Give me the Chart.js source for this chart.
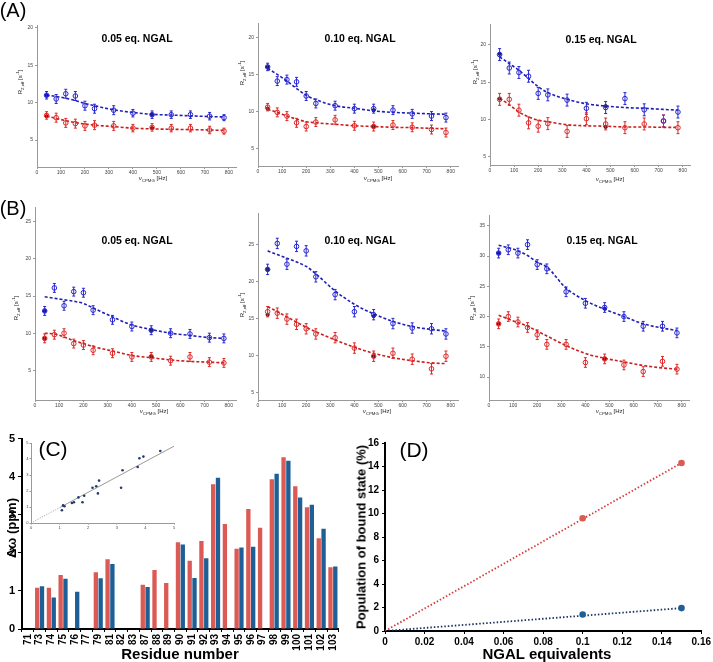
<!DOCTYPE html>
<html><head><meta charset="utf-8">
<script src="https://cdn.jsdelivr.net/npm/chart.js@4.4.1/dist/chart.umd.min.js"></script>
<style>
body{margin:0;background:#fff;width:713px;height:662px;overflow:hidden;position:relative;font-family:'Liberation Sans',Arial,sans-serif;}
canvas{position:absolute;}
.t{position:absolute;white-space:nowrap;color:#000;line-height:1;}
.t sub,.t sup{font-size:0.72em;}
</style></head><body>
<script>
// ---------- DATA ----------
const freq = [40,80,120,160,200,240,320,400,480,560,640,720,780];
const repFreq = [40,480];
const xTicksHz = [0,100,200,300,400,500,600,700,800];

// (A) 0.05 eq
const a1Blue    = [11.0,10.5,11.2,10.9,9.6,9.2,9.0,8.6,8.4,8.4,8.4,8.2,8.0];
const a1BlueFit = [11.0,10.85,10.6,10.3,9.9,9.6,9.05,8.7,8.45,8.35,8.25,8.15,8.1];
const a1Red     = [8.3,8.0,7.3,7.2,6.9,7.0,6.9,6.6,6.7,6.6,6.6,6.35,6.2];
const a1RedFit  = [8.2,7.9,7.6,7.35,7.15,7.0,6.8,6.6,6.5,6.45,6.4,6.35,6.3];
const a1Err     = [0.5,0.6,0.6,0.6,0.6,0.6,0.6,0.5,0.5,0.5,0.5,0.5,0.4];
const a1DarkB = [11.0,8.4], a1DarkR = [8.2,6.6];
// (A) 0.10 eq
const a2Blue    = [16.0,14.1,14.3,14.0,12.1,11.1,10.8,10.4,10.4,10.2,9.7,9.4,9.2];
const a2BlueFit = [15.8,15.0,14.1,13.1,12.2,11.6,10.8,10.45,10.1,9.9,9.8,9.7,9.65];
const a2Red     = [10.6,9.9,9.4,8.5,8.0,8.6,8.9,8.1,8.0,8.2,7.9,7.6,7.2];
const a2RedFit  = [10.3,9.9,9.4,9.0,8.65,8.5,8.3,8.1,8.0,7.9,7.85,7.75,7.7];
const a2Err     = [0.5,0.6,0.6,0.6,0.6,0.6,0.6,0.6,0.6,0.6,0.6,0.6,0.6];
const a2DarkB = [16.0,10.2], a2DarkR = [10.4,8.0];
// (A) 0.15 eq
const a3Blue    = [18.7,16.9,16.3,15.8,13.5,13.3,12.6,11.5,11.6,12.8,11.3,9.8,11.0];
const a3BlueFit = [18.4,17.5,16.6,15.5,14.4,13.6,12.7,12.1,11.8,11.6,11.5,11.35,11.25];
const a3Red     = [12.7,12.7,11.25,9.55,9.1,9.45,8.4,10.1,9.4,8.9,9.4,9.8,8.9];
const a3RedFit  = [12.8,12.0,11.0,10.35,9.9,9.7,9.3,9.15,9.1,9.0,9.0,8.95,8.95];
const a3Err     = [0.8,0.8,0.8,0.8,0.8,0.8,0.8,0.8,0.8,0.8,0.8,0.8,0.8];
const a3DarkB = [18.8,11.8], a3DarkR = [12.8,9.0];
// (B) 0.05 eq
const b1Blue    = [13.0,16.1,13.7,15.6,15.45,13.1,11.8,10.9,10.4,10.0,9.9,9.4,9.3];
const b1BlueFit = [14.9,14.7,14.5,14.3,14.0,13.4,12.2,11.1,10.5,10.0,9.7,9.4,9.3];
const b1Red     = [9.3,9.8,10.0,8.6,8.4,7.7,7.3,6.8,6.8,6.3,6.8,6.1,6.0];
const b1RedFit  = [10.0,9.9,9.5,9.0,8.6,8.2,7.6,7.0,6.7,6.4,6.2,6.1,6.0];
const b1Err     = [0.6,0.6,0.6,0.6,0.6,0.6,0.6,0.6,0.6,0.6,0.6,0.6,0.6];
const b1DarkB = [13.0,10.4], b1DarkR = [9.3,6.9];
// (B) 0.10 eq
const b2Blue    = [21.6,25.1,22.3,24.7,24.1,20.6,18.2,15.9,15.5,14.3,13.7,13.6,12.9];
const b2BlueFit = [24.1,23.6,23.1,22.6,22.0,21.0,18.7,16.9,15.6,14.6,13.9,13.5,13.3];
const b2Red     = [15.9,15.7,14.9,14.2,13.6,12.9,12.4,11.0,9.9,10.3,9.5,8.2,9.9];
const b2RedFit  = [16.6,15.9,15.2,14.5,13.8,13.2,12.1,11.1,10.3,9.7,9.3,9.0,8.9];
const b2Err     = [0.7,0.7,0.7,0.7,0.7,0.7,0.7,0.7,0.7,0.7,0.7,0.7,0.7];
const b2DarkB = [21.6,15.3], b2DarkR = [15.5,9.9];
// (B) 0.15 eq
const b3Blue    = [30.5,31.05,30.5,31.9,28.6,27.9,24.1,22.2,21.5,20.0,18.4,18.4,17.3];
const b3BlueFit = [31.8,31.4,30.9,30.1,29.0,28.2,24.7,22.65,21.2,20.0,18.8,18.1,17.7];
const b3Red     = [18.8,20.0,19.1,18.2,17.0,15.4,15.4,12.4,13.0,12.0,10.9,12.6,11.3];
const b3RedFit  = [20.2,19.6,19.0,18.4,17.6,16.8,15.2,13.9,13.1,12.5,11.9,11.5,11.3];
const b3Err     = [0.8,0.8,0.8,0.8,0.8,0.8,0.8,0.8,0.8,0.8,0.8,0.8,0.8];
const b3DarkB = [30.5,21.3], b3DarkR = [18.8,13.0];

// (C)
const residues = ['71','73','74','75','76','77','79','81','82','83','87','88','89','90','91','92','93','94','95','96','97','98','99','100','101','102','103'];
const cRed  = [null,1.08,1.08,1.42,null,null,1.49,1.83,null,null,1.16,1.55,1.21,2.28,1.79,2.31,3.80,2.76,2.11,3.15,2.66,3.93,4.51,3.75,3.20,2.38,1.62];
const cBlue = [null,1.12,0.83,1.32,0.98,null,1.33,1.71,null,null,1.10,null,null,2.22,1.34,1.86,3.97,null,2.14,2.16,null,4.08,4.42,3.45,3.26,2.63,1.64];
const cYTicks = [0,1,2,3,4,5];
const insetX = [1.08,1.12,1.17,1.43,1.50,1.66,1.80,1.86,2.15,2.28,2.34,2.38,3.15,3.20,3.73,3.79,3.93,4.52];
const insetY = [0.80,1.10,1.05,1.25,1.30,1.60,1.30,1.70,2.20,2.30,1.85,2.65,2.20,3.30,3.50,4.05,4.15,4.50];
const insetLineX = [0,1,5];
const insetLineY = [0,0.96,4.8];
const insetTicks = [0,1,2,3,4,5];

// (D)
const dEquiv = [0.1,0.15];
const dRed   = [9.6,14.3];
const dBlue  = [1.4,1.95];
const dFitX  = [0,0.15];
const dRedFit  = [0,14.3];
const dBlueFit = [0,1.95];
const dXTicks = [0,0.02,0.04,0.06,0.08,0.1,0.12,0.14,0.16];
const dYTicks = [0,2,4,6,8,10,12,14,16];

// ---------- HELPERS ----------
const F  = "'Liberation Sans', Arial, sans-serif";
const FN = "'Liberation Sans Narrow', 'Liberation Sans', Arial, sans-serif";
const BLUE='#2626d2', BLUEFIT='#1f1fb4', RED='#e02828', REDFIT='#c81e1e', DARKB='#14145a', DARKR='#5a1414';

function canvasFor(a, m){
  const c=document.createElement('canvas');
  const w=a.r-a.l+m.l+m.r, h=a.b-a.t+m.t+m.b;
  c.width=w; c.height=h;
  c.style.left=(a.l-m.l)+'px'; c.style.top=(a.t-m.t)+'px';
  c.style.width=w+'px'; c.style.height=h+'px';
  document.body.appendChild(c);
  return c;
}
function txt(html, cx, cy, css, rot){
  const d=document.createElement('div'); d.className='t'; d.innerHTML=html;
  d.style.cssText=`left:${cx}px;top:${cy}px;transform:translate(-50%,-50%)${rot?` rotate(${rot}deg)`:''};`+(css||'');
  document.body.appendChild(d);
}
const errPlugin={id:'err',afterDatasetsDraw(chart){
  const ctx=chart.ctx, xs=chart.scales.x, ys=chart.scales.y;
  chart.data.datasets.forEach(ds=>{
    if(!ds.err) return;
    ctx.save(); ctx.strokeStyle=ds.borderColor; ctx.lineWidth=1;
    ds.data.forEach((p,j)=>{
      const e=ds.err[j], x=xs.getPixelForValue(p.x);
      const y1=ys.getPixelForValue(p.y-e), y2=ys.getPixelForValue(p.y+e);
      ctx.beginPath(); ctx.moveTo(x,y1); ctx.lineTo(x,y2);
      ctx.moveTo(x-1.5,y1); ctx.lineTo(x+1.5,y1); ctx.moveTo(x-1.5,y2); ctx.lineTo(x+1.5,y2);
      ctx.stroke();
    });
    ctx.restore();
  });
}};
const base={responsive:false,animation:false,devicePixelRatio:1,events:[],
  plugins:{legend:{display:false},tooltip:{enabled:false}}};

function cpmg(a, yr, yt, blue, blueFit, red, redFit, err, darkB, darkR){
  const m={l:20,r:8,t:6,b:14};
  const c=canvasFor(a,m);
  const pts=arr=>freq.map((f,i)=>({x:f,y:arr[i]}));
  const rp=arr=>repFreq.map((f,i)=>({x:f,y:arr[i]}));
  new Chart(c,{type:'scatter',data:{datasets:[
    {data:pts(blue),pointRadius:2.3,borderColor:BLUE,backgroundColor:'rgba(255,255,255,0)',borderWidth:1,err},
    {data:pts(red),pointRadius:2.3,borderColor:RED,backgroundColor:'rgba(255,255,255,0)',borderWidth:1,err},
    {data:rp(darkB),pointRadius:1.6,borderColor:DARKB,backgroundColor:DARKB,borderWidth:1},
    {data:rp(darkR),pointRadius:1.6,borderColor:DARKR,backgroundColor:DARKR,borderWidth:1},
    {type:'line',data:pts(blueFit),borderColor:BLUEFIT,borderDash:[3,2],borderWidth:1.6,pointRadius:0,cubicInterpolationMode:'monotone',fill:false},
    {type:'line',data:pts(redFit),borderColor:REDFIT,borderDash:[3,2],borderWidth:1.6,pointRadius:0,cubicInterpolationMode:'monotone',fill:false}
  ]},options:Object.assign({},base,{layout:{padding:{top:m.t,right:m.r,left:0,bottom:0}},
    scales:{
      x:{type:'linear',min:0,max:830,afterBuildTicks:s=>{s.ticks=xTicksHz.map(v=>({value:v}));},
        grid:{drawOnChartArea:false,tickLength:2,color:'#999'},border:{color:'#999',width:1},
        ticks:{font:{size:5,family:F},color:'#444',padding:1,maxRotation:0,autoSkip:false},
        afterFit:s=>{s.height=m.b;}},
      y:{type:'linear',min:yr[0],max:yr[1],afterBuildTicks:s=>{s.ticks=yt.map(v=>({value:v}));},
        grid:{drawOnChartArea:false,tickLength:2,color:'#999'},border:{color:'#999',width:1},
        ticks:{font:{size:5,family:F},color:'#444',padding:2,autoSkip:false},
        afterFit:s=>{s.width=m.l;}}
    }}),plugins:[errPlugin]});
}

// ---------- PANELS A / B ----------
cpmg({l:37,t:25,r:236,b:167},[1.4,20.4],[5,10,15,20],a1Blue,a1BlueFit,a1Red,a1RedFit,a1Err,a1DarkB,a1DarkR);
cpmg({l:258,t:23,r:458,b:166},[2.7,21.9],[5,10,15,20],a2Blue,a2BlueFit,a2Red,a2RedFit,a2Err,a2DarkB,a2DarkR);
cpmg({l:490,t:24,r:690,b:165},[3.9,22.8],[5,10,15,20],a3Blue,a3BlueFit,a3Red,a3RedFit,a3Err,a3DarkB,a3DarkR);
cpmg({l:35,t:207,r:236,b:400},[1.0,27.0],[5,10,15,20,25],b1Blue,b1BlueFit,b1Red,b1RedFit,b1Err,b1DarkB,b1DarkR);
cpmg({l:258,t:213,r:458,b:400},[4.0,29.2],[5,10,15,20,25],b2Blue,b2BlueFit,b2Red,b2RedFit,b2Err,b2DarkB,b2DarkR);
cpmg({l:489,t:215,r:689,b:400},[6.2,36.8],[10,15,20,25,30,35],b3Blue,b3BlueFit,b3Red,b3RedFit,b3Err,b3DarkB,b3DarkR);

const titleCss="font-size:10.5px;font-weight:bold;";
txt('0.05 eq. NGAL',137,38,titleCss); txt('0.10 eq. NGAL',360,38,titleCss); txt('0.15 eq. NGAL',601,39,titleCss);
txt('0.05 eq. NGAL',137,240,titleCss); txt('0.10 eq. NGAL',360,240,titleCss); txt('0.15 eq. NGAL',602,240,titleCss);
txt('(A)',13,10,'font-size:20px;'); txt('(B)',13,208,'font-size:20px;');
const xl='ν<sub>CPMG</sub> [Hz]', yl='R<sub>2,eff</sub> [s<sup>-1</sup>]';
const xlCss='font-size:6px;color:#222;', ylCss='font-size:6px;color:#222;';
[[153,179],[378,179],[610,180],[154,412],[377,412],[610,412]].forEach(p=>txt(xl,p[0],p[1],xlCss));
[[21,82],[243,73],[476,72],[17,308],[243,305],[473,308]].forEach(p=>txt(yl,p[0],p[1],ylCss,-90));

// ---------- PANEL C ----------
(function(){
  const a={l:22,t:437,r:341,b:629}, m={l:22,r:6,t:8,b:30};
  const c=canvasFor(a,m);
  new Chart(c,{type:'bar',data:{labels:residues,datasets:[
    {data:cRed,backgroundColor:'#dc5a55',categoryPercentage:0.82,barPercentage:0.9},
    {data:cBlue,backgroundColor:'#1e6096',categoryPercentage:0.82,barPercentage:0.9}
  ]},options:Object.assign({},base,{layout:{padding:{top:m.t,right:m.r,left:0,bottom:0}},
    scales:{
      x:{grid:{drawOnChartArea:false,tickLength:3,color:'#000'},border:{color:'#000',width:2},
        ticks:{minRotation:90,maxRotation:90,autoSkip:false,padding:2,color:'#000',font:{size:10,weight:'bold',family:FN}},
        afterFit:s=>{s.height=m.b;}},
      y:{min:0,max:5,afterBuildTicks:s=>{s.ticks=cYTicks.map(v=>({value:v}));},
        grid:{drawOnChartArea:false,tickLength:4,color:'#000'},border:{color:'#000',width:2},
        ticks:{padding:3,color:'#000',font:{size:11,weight:'bold',family:FN}},
        afterFit:s=>{s.width=m.l;}}
    }})});
})();
(function(){
  const a={l:31,t:443,r:174,b:523}, m={l:6,r:4,t:4,b:7};
  const c=canvasFor(a,m);
  new Chart(c,{type:'scatter',data:{datasets:[
    {data:insetX.map((x,i)=>({x,y:insetY[i]})),pointRadius:1.3,backgroundColor:'#233a6e',borderColor:'#233a6e',borderWidth:0},
    {type:'line',data:insetLineX.map((x,i)=>({x,y:insetLineY[i]})),borderColor:'#9a9a9a',borderWidth:1,pointRadius:0,fill:false,
      segment:{borderDash:ctx=>ctx.p0DataIndex===0?[1,1.5]:undefined}}
  ]},options:Object.assign({},base,{layout:{padding:{top:m.t,right:m.r,left:0,bottom:0}},
    scales:{
      x:{type:'linear',min:0,max:5,afterBuildTicks:s=>{s.ticks=insetTicks.map(v=>({value:v}));},
        grid:{drawOnChartArea:false,tickLength:1.5,color:'#999'},border:{color:'#999',width:1},
        ticks:{font:{size:4,family:F},color:'#444',padding:1,maxRotation:0},afterFit:s=>{s.height=m.b;}},
      y:{type:'linear',min:0,max:5,afterBuildTicks:s=>{s.ticks=insetTicks.map(v=>({value:v}));},
        grid:{drawOnChartArea:false,tickLength:1.5,color:'#999'},border:{color:'#999',width:1},
        ticks:{font:{size:4,family:F},color:'#444',padding:1},afterFit:s=>{s.width=m.l;}}
    }})});
})();
txt('(C)',53,448,'font-size:21px;');
txt('Δω (ppm)',11,528,"font-size:13px;font-weight:bold;font-family:"+FN,-90);
txt('Residue number',180,653,"font-size:15px;font-weight:bold;font-family:"+FN);

// ---------- PANEL D ----------
(function(){
  const a={l:385,t:442,r:705,b:631}, m={l:28,r:8,t:8,b:20};
  const c=canvasFor(a,m);
  new Chart(c,{type:'scatter',data:{datasets:[
    {data:dEquiv.map((x,i)=>({x,y:dRed[i]})),pointRadius:3.3,backgroundColor:'#dc5a55',borderColor:'#dc5a55',borderWidth:0},
    {data:dEquiv.map((x,i)=>({x,y:dBlue[i]})),pointRadius:3.3,backgroundColor:'#1e6096',borderColor:'#1e6096',borderWidth:0},
    {type:'line',data:dFitX.map((x,i)=>({x,y:dRedFit[i]})),borderColor:'#d83a3a',borderDash:[1.5,2],borderWidth:1.8,pointRadius:0,fill:false},
    {type:'line',data:dFitX.map((x,i)=>({x,y:dBlueFit[i]})),borderColor:'#17335e',borderDash:[1.5,2],borderWidth:1.8,pointRadius:0,fill:false}
  ]},options:Object.assign({},base,{layout:{padding:{top:m.t,right:m.r,left:0,bottom:0}},
    scales:{
      x:{type:'linear',min:0,max:0.16,afterBuildTicks:s=>{s.ticks=dXTicks.map(v=>({value:v}));},
        grid:{drawOnChartArea:false,tickLength:3,color:'#000'},border:{color:'#000',width:2},
        ticks:{padding:2,color:'#000',maxRotation:0,autoSkip:false,font:{size:10,weight:'bold',family:FN},
          callback:v=>String(+v.toFixed(2))},afterFit:s=>{s.height=m.b;}},
      y:{type:'linear',min:0,max:16,afterBuildTicks:s=>{s.ticks=dYTicks.map(v=>({value:v}));},
        grid:{drawOnChartArea:false,tickLength:3,color:'#000'},border:{color:'#000',width:2},
        ticks:{padding:3,color:'#000',font:{size:10,weight:'bold',family:FN}},afterFit:s=>{s.width=m.l;}}
    }})});
})();
txt('(D)',414,449,'font-size:21px;');
txt('Population of bound state (%)',361,537,"font-size:13px;font-weight:bold;font-family:"+FN,-90);
txt('NGAL equivalents',547,653,"font-size:15px;font-weight:bold;font-family:"+FN);
</script>
</body></html>
